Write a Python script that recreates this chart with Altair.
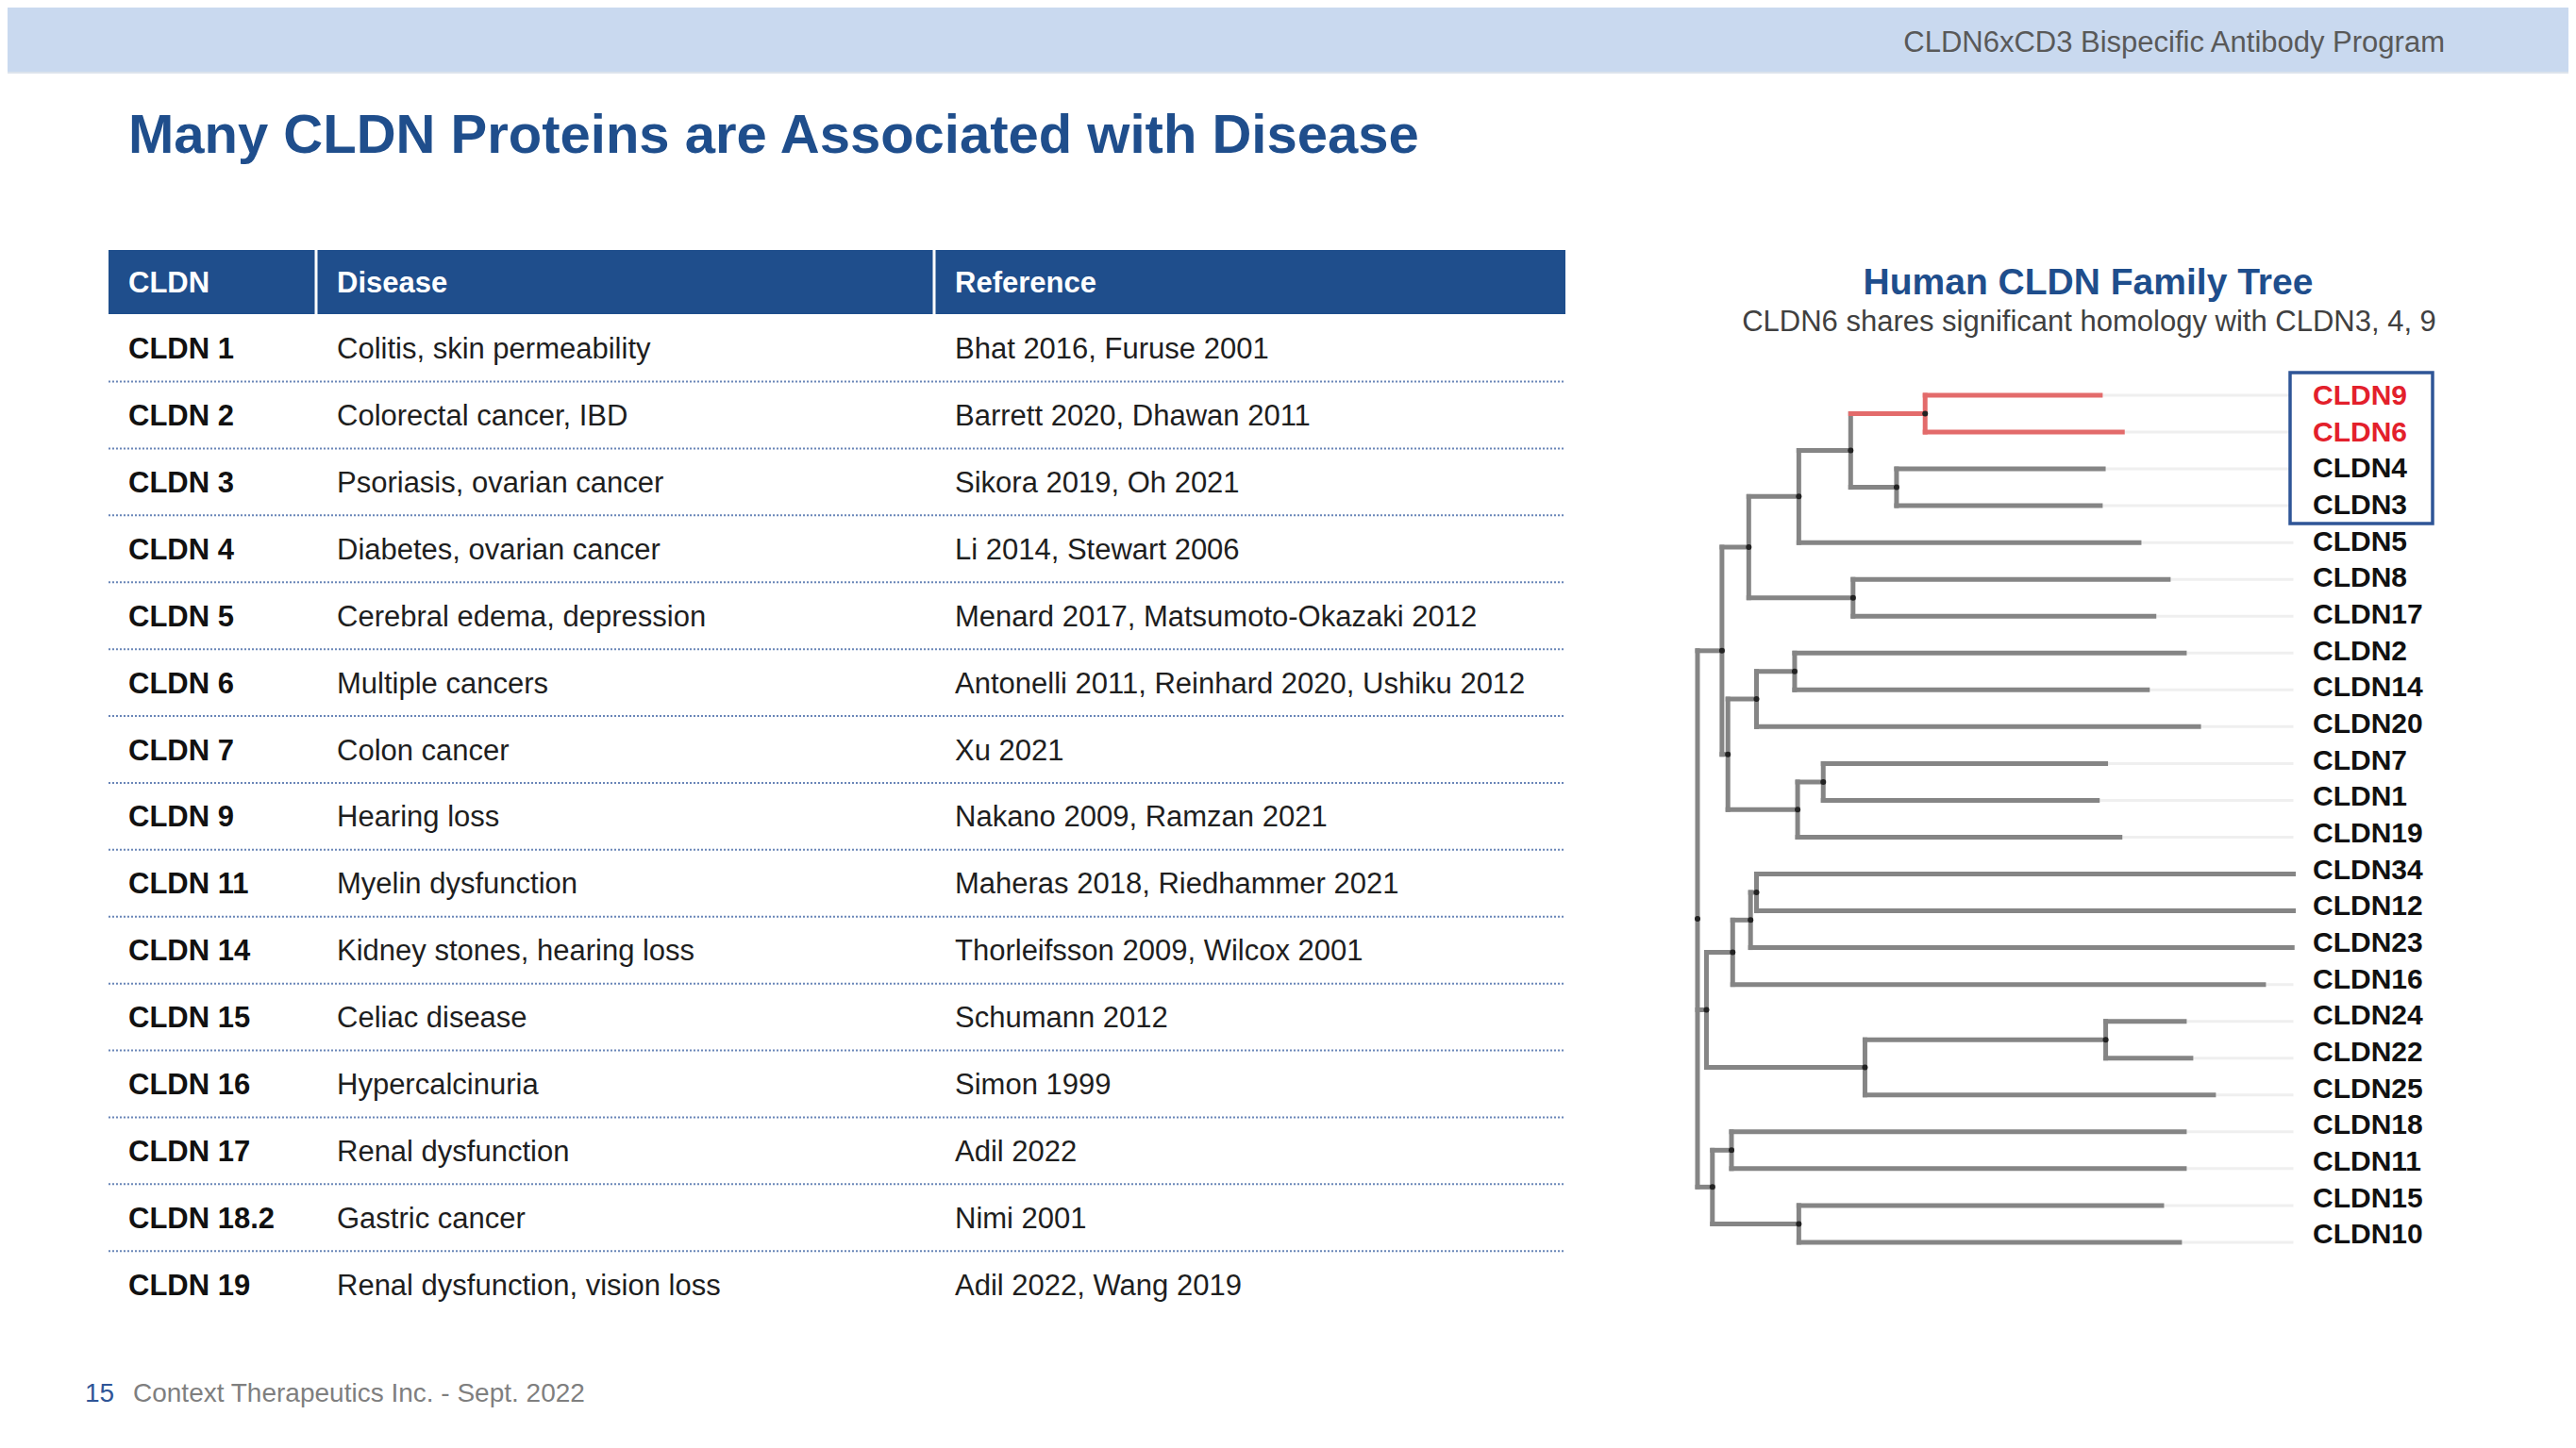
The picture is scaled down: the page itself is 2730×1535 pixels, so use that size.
import altair as alt
import pandas as pd

# ---------------- data ----------------
header_title = "CLDN6xCD3 Bispecific Antibody Program"
slide_title = "Many CLDN Proteins are Associated with Disease"
col_headers = ["CLDN", "Disease", "Reference"]
cldn_ids = ["CLDN 1", "CLDN 2", "CLDN 3", "CLDN 4", "CLDN 5", "CLDN 6", "CLDN 7", "CLDN 9",
            "CLDN 11", "CLDN 14", "CLDN 15", "CLDN 16", "CLDN 17", "CLDN 18.2", "CLDN 19"]
diseases = ["Colitis, skin permeability", "Colorectal cancer, IBD", "Psoriasis, ovarian cancer",
            "Diabetes, ovarian cancer", "Cerebral edema, depression", "Multiple cancers",
            "Colon cancer", "Hearing loss", "Myelin dysfunction", "Kidney stones, hearing loss",
            "Celiac disease", "Hypercalcinuria", "Renal dysfunction", "Gastric cancer",
            "Renal dysfunction, vision loss"]
references = ["Bhat 2016, Furuse 2001", "Barrett 2020, Dhawan 2011", "Sikora 2019, Oh 2021",
              "Li 2014, Stewart 2006", "Menard 2017, Matsumoto-Okazaki 2012",
              "Antonelli 2011, Reinhard 2020, Ushiku 2012", "Xu 2021", "Nakano 2009, Ramzan 2021",
              "Maheras 2018, Riedhammer 2021", "Thorleifsson 2009, Wilcox 2001", "Schumann 2012",
              "Simon 1999", "Adil 2022", "Nimi 2001", "Adil 2022, Wang 2019"]
tree_title = "Human CLDN Family Tree"
tree_subtitle = "CLDN6 shares significant homology with CLDN3, 4, 9"
footer_page = "15"
footer_text = "Context Therapeutics Inc. - Sept. 2022"

# dendrogram: leaf order (top to bottom) and tip distances from the root
leaves = ["CLDN9", "CLDN6", "CLDN4", "CLDN3", "CLDN5", "CLDN8", "CLDN17", "CLDN2", "CLDN14",
          "CLDN20", "CLDN7", "CLDN1", "CLDN19", "CLDN34", "CLDN12", "CLDN23", "CLDN16",
          "CLDN24", "CLDN22", "CLDN25", "CLDN18", "CLDN11", "CLDN15", "CLDN10"]
leaf_dist = [0.676, 0.713, 0.681, 0.676, 0.741, 0.790, 0.766, 0.817, 0.755,
             0.841, 0.685, 0.671, 0.709, 1.000, 1.000, 0.998, 0.950,
             0.817, 0.828, 0.866, 0.817, 0.817, 0.779, 0.809]
# internal nodes: name, distance from root, children (bottom-up order)
node_names = ["n96", "n43", "n9643", "n5", "n817", "nU", "n214", "n20", "n71", "n19", "nB", "nA",
              "n3412", "n23", "nD", "n2422", "nE", "nC", "n1811", "n1510", "nF", "root"]
node_dist = [0.382, 0.334, 0.257, 0.170, 0.261, 0.086, 0.163, 0.099, 0.211, 0.168, 0.051, 0.041,
             0.099, 0.089, 0.059, 0.685, 0.281, 0.015, 0.057, 0.170, 0.025, 0.0]
node_children = [["CLDN9", "CLDN6"], ["CLDN4", "CLDN3"], ["n96", "n43"], ["n9643", "CLDN5"],
                 ["CLDN8", "CLDN17"], ["n5", "n817"], ["CLDN2", "CLDN14"], ["n214", "CLDN20"],
                 ["CLDN7", "CLDN1"], ["n71", "CLDN19"], ["n20", "n19"], ["nU", "nB"],
                 ["CLDN34", "CLDN12"], ["n3412", "CLDN23"], ["n23", "CLDN16"],
                 ["CLDN24", "CLDN22"], ["n2422", "CLDN25"], ["nD", "nE"],
                 ["CLDN18", "CLDN11"], ["CLDN15", "CLDN10"], ["n1811", "n1510"],
                 ["nA", "nC", "nF"]]
red_clade = ["n96", "CLDN9", "CLDN6"]
boxed_leaves = ["CLDN9", "CLDN6", "CLDN4", "CLDN3"]

# ---------------- layout / style ----------------
W, H = 2714, 1519
OX, OY = 8, 8
BLUE = "#1F4E8C"
BAND = "#C9D9EF"
FONT = "Liberation Sans"
GRAY_BR = "#858585"
RED_BR = "#E36B6B"
RED_TX = "#E3202B"

COL_X = [136, 357, 1012]
TAB_X0, TAB_X1 = 115, 1659
HEAD_Y0, HEAD_Y1 = 265, 333
COL_SEP = [335, 990]
ROW_Y0, ROW_H = 369.1, 70.9

TREE_X0, TREE_XS = 1799, 631.5
TREE_Y0, TREE_YS = 419, 39.04
LAB_X, LAB_Y0, LAB_YS = 2451, 418, 38.66

xs = alt.Scale(domain=[OX, OX + W], nice=False, zero=False)
ys = alt.Scale(domain=[OY, OY + H], nice=False, zero=False, reverse=True)


def X(f="x"):
    return alt.X(f + ":Q", scale=xs, axis=None)


def Y(f="y"):
    return alt.Y(f + ":Q", scale=ys, axis=None)


def text_layer(df, size, color=None, weight="normal", align="left", baseline="middle"):
    kw = dict(align=align, baseline=baseline, fontSize=size, fontWeight=weight, font=FONT)
    if baseline == "middle":
        kw["dy"] = 2
    enc = dict(x=X(), y=Y(), text="t:N")
    if color is None:
        enc["color"] = alt.Color("c:N", scale=None)
    else:
        kw["color"] = color
    return alt.Chart(df).mark_text(**kw).encode(**enc)


def rect_layer(df, **kw):
    return alt.Chart(df).mark_rect(**kw).encode(x=X("x"), x2="x2:Q", y=Y("y"), y2="y2:Q")


def rule_layer(df, **kw):
    enc = dict(x=X("x"), x2="x2:Q", y=Y("y"), y2="y2:Q")
    if "c" in df.columns:
        enc["color"] = alt.Color("c:N", scale=None)
    return alt.Chart(df).mark_rule(**kw).encode(**enc)


layers = []

# top band + header text
layers.append(rect_layer(pd.DataFrame([dict(x=OX, x2=OX + W, y=OY, y2=76)]), color=BAND))
layers.append(rule_layer(pd.DataFrame([dict(x=OX, x2=OX + W, y=77, y2=77)]), color="#DCE3EC", strokeWidth=2))
layers.append(text_layer(pd.DataFrame([dict(x=2591, y=44, t=header_title)]), 31, "#595959", align="right"))

# slide title
layers.append(text_layer(pd.DataFrame([dict(x=136, y=162, t=slide_title)]), 58, BLUE, weight="bold",
                         baseline="alphabetic"))

# table header
layers.append(rect_layer(pd.DataFrame([dict(x=TAB_X0, x2=TAB_X1, y=HEAD_Y0, y2=HEAD_Y1)]), color=BLUE))
layers.append(rule_layer(pd.DataFrame([dict(x=s, x2=s, y=HEAD_Y0, y2=HEAD_Y1) for s in COL_SEP]),
                         color="white", strokeWidth=3))
hy = (HEAD_Y0 + HEAD_Y1) / 2
layers.append(text_layer(pd.DataFrame([dict(x=cx, y=hy, t=h) for cx, h in zip(COL_X, col_headers)]),
                         31, "white", weight="bold"))

# table rows
n = len(cldn_ids)
row_y = [ROW_Y0 + ROW_H * i for i in range(n)]
layers.append(rule_layer(pd.DataFrame([dict(x=TAB_X0, x2=TAB_X1, y=yy + ROW_H / 2, y2=yy + ROW_H / 2)
                                       for yy in row_y[:-1]]),
                         color="#6A86B8", strokeWidth=2, strokeDash=[2, 2]))
layers.append(text_layer(pd.DataFrame([dict(x=COL_X[0], y=yy, t=t) for yy, t in zip(row_y, cldn_ids)]),
                         31, "#111111", weight="bold"))
layers.append(text_layer(pd.DataFrame([dict(x=COL_X[1], y=yy, t=t) for yy, t in zip(row_y, diseases)]),
                         31, "#1E1E1E"))
layers.append(text_layer(pd.DataFrame([dict(x=COL_X[2], y=yy, t=t) for yy, t in zip(row_y, references)]),
                         31, "#1E1E1E"))

# tree titles
layers.append(text_layer(pd.DataFrame([dict(x=2213, y=298, t=tree_title)]), 39, BLUE, weight="bold",
                         align="center"))
layers.append(text_layer(pd.DataFrame([dict(x=2214, y=340, t=tree_subtitle)]), 31, "#404040",
                         align="center"))

# dendrogram geometry from the tree data
def px(d):
    return TREE_X0 + d * TREE_XS


def py(i):
    return TREE_Y0 + i * TREE_YS


pos = {}
for i, (nm, d) in enumerate(zip(leaves, leaf_dist)):
    pos[nm] = (d, i)
for nm, d, ch in zip(node_names, node_dist, node_children):
    pos[nm] = (d, (pos[ch[0]][1] + pos[ch[-1]][1]) / 2)

segs = []
for nm, d, ch in zip(node_names, node_dist, node_children):
    yv = [pos[c][1] for c in ch]
    segs.append(dict(x=px(d), x2=px(d), y=py(min(yv)), y2=py(max(yv)),
                     c=RED_BR if nm in red_clade else GRAY_BR))
    for c in ch:
        cd, cy = pos[c]
        segs.append(dict(x=px(d), x2=px(cd), y=py(cy), y2=py(cy),
                         c=RED_BR if c in red_clade else GRAY_BR))
segs_df = pd.DataFrame(segs)
segs_df["o"] = (segs_df["c"] == RED_BR).astype(int)
segs_df = segs_df.sort_values("o")

maxd = max(leaf_dist)
ext = pd.DataFrame([dict(x=px(d), x2=px(maxd), y=py(i), y2=py(i)) for i, d in enumerate(leaf_dist)])
layers.append(rule_layer(ext, color="#EFEFEF", strokeWidth=3))
layers.append(rule_layer(segs_df[["x", "x2", "y", "y2", "c"]], strokeWidth=5, strokeCap="square"))
dots = pd.DataFrame([dict(x=px(d), y=py(pos[nm][1])) for nm, d in zip(node_names, node_dist)])
layers.append(alt.Chart(dots).mark_point(filled=True, size=36, color="#222222", opacity=1)
              .encode(x=X(), y=Y()))

# leaf labels
lab = pd.DataFrame([dict(x=LAB_X, y=LAB_Y0 + i * LAB_YS, t=nm,
                         c=RED_TX if nm in red_clade else "#111111") for i, nm in enumerate(leaves)])
bi = [leaves.index(b) for b in boxed_leaves]
box = pd.DataFrame([dict(x=2427, x2=2578, y=LAB_Y0 + min(bi) * LAB_YS - 23,
                         y2=LAB_Y0 + max(bi) * LAB_YS + 21)])
layers.append(rect_layer(box, fill="white", stroke="#2F5597", strokeWidth=3.5))
layers.append(text_layer(lab, 30, None, weight="bold"))

# footer
layers.append(text_layer(pd.DataFrame([dict(x=90, y=1476, t=footer_page)]), 28, "#2F5597"))
layers.append(text_layer(pd.DataFrame([dict(x=141, y=1476, t=footer_text)]), 28, "#7F7F7F"))

chart = (alt.layer(*layers)
         .properties(width=W, height=H, padding=0, autosize=alt.AutoSizeParams(type="none"),
                     background="white")
         .configure_view(stroke=None))

chart.save("out.html", embed_options={"renderer": "svg", "actions": False})
